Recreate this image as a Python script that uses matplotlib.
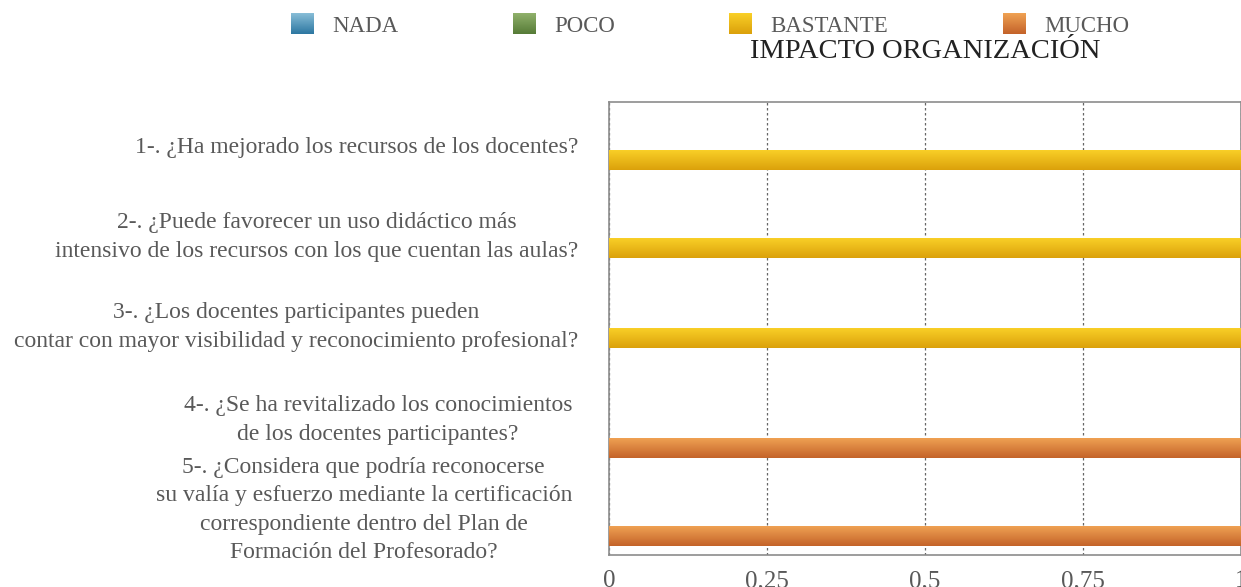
"""
Impacto organización: horizontal 100%-style bars with gradient fill.
"""

import numpy as np
import matplotlib
matplotlib.use('Agg')
import matplotlib.pyplot as plt
from matplotlib.patches import Rectangle

plt.rcParams['font.family'] = ['Liberation Serif', 'DejaVu Serif']

# ---------------------------------------------------------------------------
# DATA
# ---------------------------------------------------------------------------

questions = [
    "1-. ¿Ha mejorado los recursos de los docentes?",
    "2-. ¿Puede favorecer un uso didáctico más\nintensivo de los recursos con los que cuentan las aulas?",
    "3-. ¿Los docentes participantes pueden\ncontar con mayor visibilidad y reconocimiento profesional?",
    "4-. ¿Se ha revitalizado los conocimientos\nde los docentes participantes?",
    "5-. ¿Considera que podría reconocerse\nsu valía y esfuerzo mediante la certificación\ncorrespondiente dentro del Plan de\nFormación del Profesorado?",
]
series_names = ["NADA", "POCO", "BASTANTE", "MUCHO"]
nada     = [0, 0, 0, 0, 0]
poco     = [0, 0, 0, 0, 0]
bastante = [1, 1, 1, 0, 0]
mucho    = [0, 0, 0, 1, 1]
x_ticks  = [0, 0.25, 0.5, 0.75, 1]
x_tick_labels = ["0", "0,25", "0,5", "0,75", "1"]
title = "IMPACTO ORGANIZACIÓN"

# ---------------------------------------------------------------------------
# STYLE
# ---------------------------------------------------------------------------

# (top colour, bottom colour) of the vertical gradient
GRAD = {
    "NADA":     ('#86bcd6', '#2e78a2'),
    "POCO":     ('#8fb06a', '#577c38'),
    "BASTANTE": ('#f9cf27', '#dba10b'),
    "MUCHO":    ('#efa152', '#c4632a'),
}
TXT = '#595959'

# layout in "pixel rows" of the axes (uneven like the original)
bar_pos   = [58, 146, 236, 346, 434]
label_pos = [45, 135, 225, 318, 408]
label_dx  = [31, 31, 31, 37, 37]     # gap (px) between label block and axis
BAR_H     = 20
Y_SPAN    = 453


def gradient(c_top, c_bot, n=64):
    t = np.linspace(0, 1, n)[:, None]
    a = np.array(matplotlib.colors.to_rgb(c_top))
    b = np.array(matplotlib.colors.to_rgb(c_bot))
    return (a * (1 - t) + b * t)[:, None, :]


fig = plt.figure(figsize=(12.41, 5.87), dpi=100)
ax = fig.add_axes([609 / 1241, 1 - 555 / 587, 1 - 609 / 1241, 453 / 587])

stacks = {"NADA": nada, "POCO": poco, "BASTANTE": bastante, "MUCHO": mucho}
left = np.zeros(len(questions))
for name in series_names:
    vals = np.array(stacks[name], dtype=float)
    for i, v in enumerate(vals):
        if v <= 0:
            continue
        y0 = bar_pos[i] - BAR_H / 2
        rect = Rectangle((left[i], y0), v, BAR_H, facecolor='none',
                         edgecolor='none', zorder=3)
        ax.add_patch(rect)
        im = ax.imshow(gradient(*GRAD[name]), aspect='auto',
                       extent=(left[i], left[i] + v, y0 + BAR_H, y0),
                       origin='upper', zorder=3, interpolation='bilinear')
        im.set_clip_path(rect)
    left += vals

ax.set_xlim(0, 1)
ax.set_ylim(Y_SPAN, 0)
ax.set_yticks([])
ax.set_xticks(x_ticks)
ax.set_xticklabels(x_tick_labels, fontsize=18, color=TXT)
ax.tick_params(axis='x', length=0, pad=11)
for s in ax.spines.values():
    s.set_color('#8c8c8c')
    s.set_linewidth(1.2)
ax.grid(axis='x', color='#666666', ls=(0, (2, 2)), lw=0.9)
ax.set_axisbelow(True)

for q, yp, dx in zip(questions, label_pos, label_dx):
    ax.text(-dx / 632, yp, q, transform=ax.get_yaxis_transform(),
            ha='right', va='center', multialignment='center',
            fontsize=17, color=TXT, linespacing=1.47)

fig.text(925 / 1241, 1 - 52 / 587, title, ha='center', va='center',
         fontsize=20.5, color='#222222')

handles = [Rectangle((0, 0), 1, 1, facecolor=GRAD[n][1]) for n in series_names]
leg = fig.legend(handles, series_names, loc='center', ncol=4,
                 bbox_to_anchor=(710 / 1241, 1 - 25 / 587), frameon=False,
                 fontsize=16.5, handlelength=1.0, handleheight=1.0,
                 handletextpad=0.8, columnspacing=5.0)
for t in leg.get_texts():
    t.set_color(TXT)

# overlay gradients onto the legend swatches
fig.canvas.draw()
for name, p in zip(series_names, leg.get_patches()):
    bb = p.get_window_extent()
    w, h = int(round(bb.width)), int(round(bb.height))
    img = np.repeat(gradient(*GRAD[name], n=h), w, axis=1)
    fig.figimage(img, xo=int(round(bb.x0)), yo=int(round(bb.y0)),
                 origin='upper', zorder=20)

fig.savefig('out.png', dpi=100)
